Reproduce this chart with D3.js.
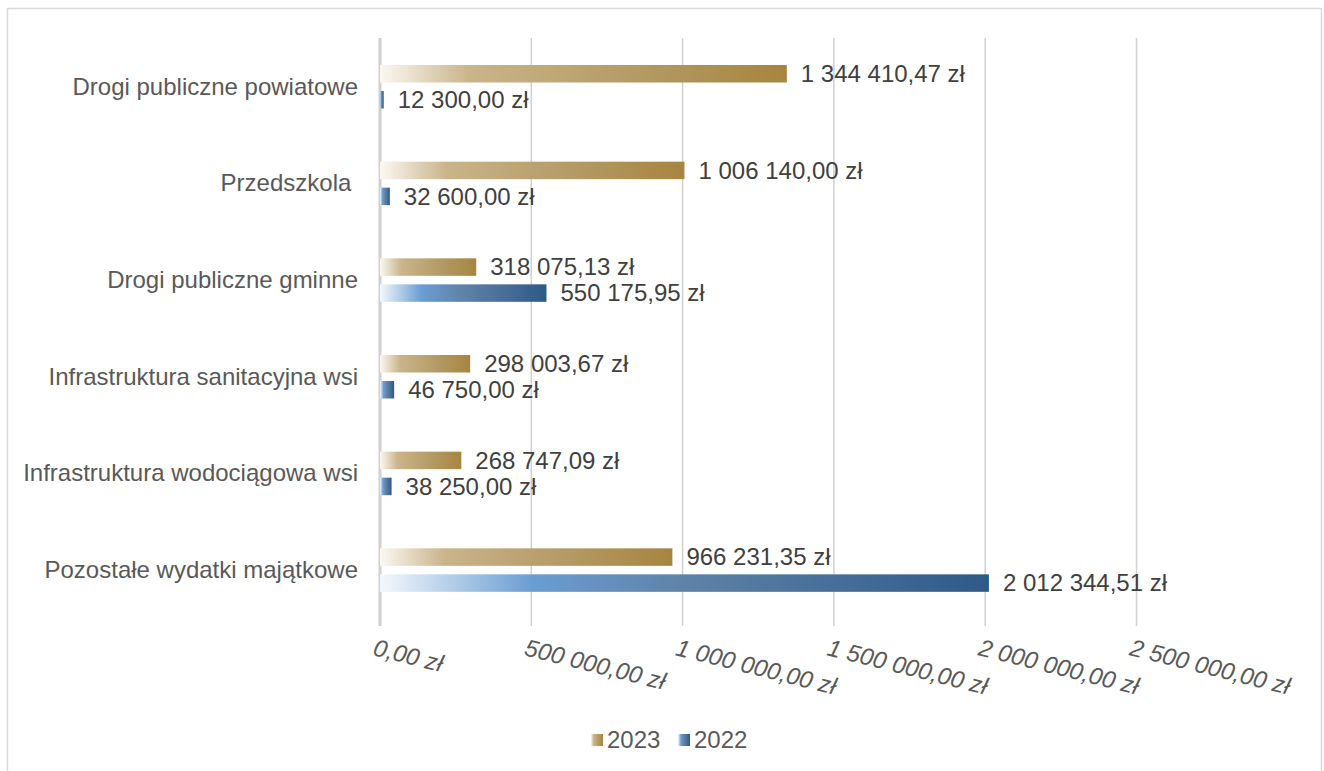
<html>
<head>
<meta charset="utf-8">
<script src="https://d3js.org/d3.v7.min.js"></script>
<style>
  body { margin: 0; background: #fff; font-family: "Liberation Sans", Arial, sans-serif; }
</style>
</head>
<body>
<svg width="1324" height="771"></svg>
<script>
var categories = ["Drogi publiczne powiatowe", "Przedszkola ", "Drogi publiczne gminne",
  "Infrastruktura sanitacyjna wsi", "Infrastruktura wodociągowa wsi", "Pozostałe wydatki majątkowe"];
var values2023 = [1344410.47, 1006140.00, 318075.13, 298003.67, 268747.09, 966231.35];
var values2022 = [12300.00, 32600.00, 550175.95, 46750.00, 38250.00, 2012344.51];
var tickValues = [0, 500000, 1000000, 1500000, 2000000, 2500000];
var seriesNames = ["2023", "2022"];

var svg = d3.select("svg");

// outer frame
svg.append("rect").attr("x", 7.5).attr("y", 8.5).attr("width", 1314).attr("height", 770)
  .attr("fill", "none").attr("stroke", "#d9d9d9").attr("stroke-width", 1.5);

var defs = svg.append("defs");
function grad(id, stops) {
  var g = defs.append("linearGradient").attr("id", id).attr("x1", 0).attr("x2", 1).attr("y1", 0).attr("y2", 0);
  stops.forEach(s => g.append("stop").attr("offset", s[0]).attr("stop-color", s[1]));
}
grad("g2023", [[0, "#fbf8f2"], [0.22, "#cab48a"], [0.6, "#b59c68"], [1, "#a6853f"]]);
grad("g2022", [[0, "#f4f8fc"], [0.25, "#6a9dd2"], [0.5, "#5f82a8"], [1, "#2e5a88"]]);

var x = d3.scaleLinear().domain([0, 2500000]).range([380, 1136.5]);
var y = d3.scaleBand().domain(categories).range([38, 618]);

// gridlines
svg.append("g").selectAll("line").data(tickValues.slice(1)).join("line")
  .attr("x1", d => x(d)).attr("x2", d => x(d)).attr("y1", 38).attr("y2", 626)
  .attr("stroke", "#d0d0d0").attr("stroke-width", 1.5);
svg.append("line").attr("x1", x(0)).attr("x2", x(0)).attr("y1", 38).attr("y2", 626)
  .attr("stroke", "#d0d0d0").attr("stroke-width", 3);

function fmt(v) {
  var s = v.toFixed(2).split(".");
  return s[0].replace(/\B(?=(\d{3})+(?!\d))/g, " ") + "," + s[1] + " zł";
}

var fs = 24;
var barH = 17.5;
var series = [
  { name: "2023", vals: values2023, fill: "url(#g2023)", off: 27 },
  { name: "2022", vals: values2022, fill: "url(#g2022)", off: 53 }
];

series.forEach(function(s) {
  var g = svg.append("g");
  g.selectAll("rect").data(categories).join("rect")
    .attr("x", x(0)).attr("y", (d, i) => y(d) + s.off)
    .attr("width", (d, i) => x(s.vals[i]) - x(0))
    .attr("height", barH)
    .attr("fill", s.fill);
  g.selectAll("text").data(categories).join("text")
    .attr("x", (d, i) => x(s.vals[i]) + 14)
    .attr("y", (d, i) => y(d) + s.off + barH / 2)
    .attr("dy", "0.35em")
    .attr("font-size", fs).attr("fill", "#404040")
    .text((d, i) => fmt(s.vals[i]));
});

// category labels
svg.append("g").selectAll("text").data(categories).join("text")
  .attr("x", 358).attr("y", d => y(d) + y.bandwidth() / 2)
  .attr("dy", "0.35em").attr("text-anchor", "end")
  .style("white-space", "pre")
  .attr("font-size", fs).attr("fill", "#595959")
  .text(d => d);

// x axis tick labels (rotated, italic)
svg.append("g").selectAll("text").data(tickValues).join("text")
  .attr("transform", d => "translate(" + (x(d) - 8) + ",655) rotate(14)")
  .attr("font-size", fs).attr("font-style", "italic").attr("fill", "#595959")
  .text(d => fmt(d));

// legend
var legend = [{ name: "2023", fill: "url(#g2023)", x: 591 }, { name: "2022", fill: "url(#g2022)", x: 678 }];
var lg = svg.append("g").selectAll("g").data(legend).join("g");
lg.append("rect").attr("x", d => d.x).attr("y", 734).attr("width", 12).attr("height", 12).attr("fill", d => d.fill);
lg.append("text").attr("x", d => d.x + 16).attr("y", 740).attr("dy", "0.35em")
  .attr("font-size", fs).attr("fill", "#595959").text(d => d.name);
</script>
</body>
</html>
